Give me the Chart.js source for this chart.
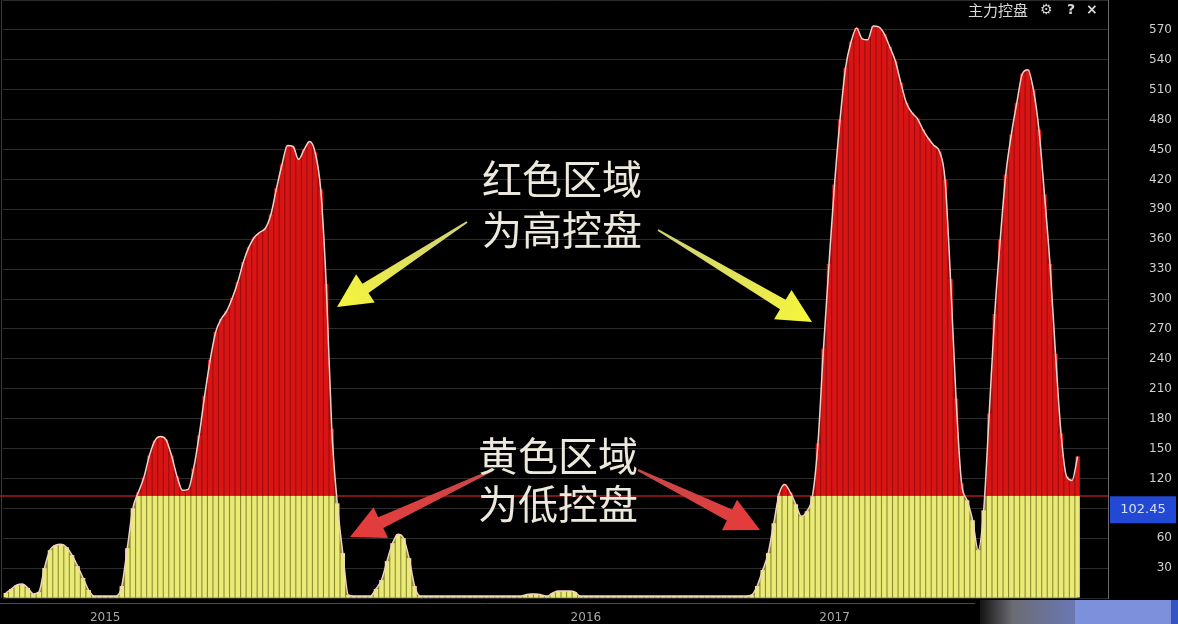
<!DOCTYPE html>
<html>
<head>
<meta charset="utf-8">
<script src="https://cdn.jsdelivr.net/npm/chart.js@4.4.1/dist/chart.umd.min.js"></script>
<style>
  html, body { margin: 0; padding: 0; background: #000; }
  canvas { display: block; }
</style>
</head>
<body>
<canvas id="control-chart" width="1178" height="624"></canvas>
<script>
// 主力控盘 values, one per trading bar (last few bars are still empty)
let controlValues = [
    5, 9, 13, 14, 10, 4, 6, 30, 48, 53,
    54, 51, 43, 32, 20, 8, 2, 2, 2, 2,
    2, 12, 50, 90, 106, 121, 143, 158, 162, 159,
    143, 122, 108, 109, 130, 163, 203, 239, 267, 280,
    288, 301, 317, 337, 352, 362, 367, 371, 385, 411,
    435, 454, 453, 440, 450, 458, 447, 410, 315, 170,
    95, 45, 3, 2, 2, 2, 2, 9, 18, 37,
    55, 64, 60, 40, 12, 2, 2, 2, 2, 2,
    2, 2, 2, 2, 2, 2, 2, 2, 2, 2,
    2, 2, 2, 2, 3, 4, 4, 3, 2, 5,
    7, 7, 7, 6, 2, 2, 2, 2, 2, 2,
    2, 2, 2, 2, 2, 2, 2, 2, 2, 2,
    2, 2, 2, 2, 2, 2, 2, 2, 2, 2,
    2, 2, 2, 2, 2, 3, 12, 28, 45, 75,
    105, 114, 106, 94, 82, 87, 102, 155, 250, 335,
    415, 480, 532, 558, 572, 561, 560, 574, 573, 566,
    553, 539, 517, 497, 487, 481, 470, 461, 454, 448,
    420, 320, 200, 115, 98, 78, 48, 88, 185, 285,
    360, 425, 465, 497, 526, 530, 510, 470, 405, 335,
    245, 165, 122, 118, 142, null, null, null, null, null
];
let threshold = 102.45;
let yearLabels = ['2015', '2016', '2017'];
let yearIndexes = [18, 105, 150];
let axisMax = 600;
let axisStep = 30;

let dayLabels = controlValues.map((v, i) => String(i));
let lowPart = controlValues.map(v => v == null ? null : Math.min(v, threshold));
let highPart = controlValues.map(v => v == null ? null : Math.max(v - threshold, 0));

// background fill behind the bars so the gaps look tinted, not black
function gapFill(context) {
    const chart = context.chart;
    const area = chart.chartArea;
    if (!area) return '#8e8e30';
    const yT = chart.scales.y.getPixelForValue(threshold);
    const f = Math.min(Math.max((yT - area.top) / (area.bottom - area.top), 0), 1);
    const g = chart.ctx.createLinearGradient(0, area.top, 0, area.bottom);
    g.addColorStop(0, '#9a0e0e');
    g.addColorStop(f, '#9a0e0e');
    g.addColorStop(f, '#8e8e30');
    g.addColorStop(1, '#8e8e30');
    return g;
}

function drawArrow(c, x1, y1, x2, y2, colA, colB, headLen, headW, neckW, tailW) {
    const ang = Math.atan2(y2 - y1, x2 - x1);
    const len = Math.hypot(x2 - x1, y2 - y1);
    c.save();
    c.translate(x1, y1);
    c.rotate(ang);
    const g = c.createLinearGradient(0, 0, len, 0);
    g.addColorStop(0, colA);
    g.addColorStop(1, colB);
    c.beginPath();
    c.moveTo(0, -tailW / 2);
    c.lineTo(len - headLen, -neckW / 2);
    c.lineTo(len - headLen, -headW / 2);
    c.lineTo(len, 0);
    c.lineTo(len - headLen, headW / 2);
    c.lineTo(len - headLen, neckW / 2);
    c.lineTo(0, tailW / 2);
    c.closePath();
    c.fillStyle = g;
    c.fill();
    c.restore();
}

const decorations = {
    id: 'decorations',
    beforeDatasetsDraw(chart) {
        const c = chart.ctx;
        const area = chart.chartArea;
        const yT = chart.scales.y.getPixelForValue(threshold);
        c.save();
        c.strokeStyle = '#a81c1c';
        c.lineWidth = 1.5;
        c.beginPath();
        c.moveTo(0, yT);
        c.lineTo(area.right, yT);
        c.stroke();
        c.restore();
    },
    afterDraw(chart) {
        const c = chart.ctx;
        const area = chart.chartArea;
        const y = chart.scales.y;
        c.save();

        // left border and the lower axis line
        c.strokeStyle = '#3c3c3c';
        c.lineWidth = 1;
        c.beginPath();
        c.moveTo(1.5, 0);
        c.lineTo(1.5, area.bottom);
        c.stroke();
        c.strokeStyle = '#4a4a4a';
        c.beginPath();
        c.moveTo(0, 603.5);
        c.lineTo(975, 603.5);
        c.stroke();

        // bottom right strip
        let g = c.createLinearGradient(980, 0, 1075, 0);
        g.addColorStop(0, '#141414');
        g.addColorStop(0.35, '#6c6c74');
        g.addColorStop(1, '#6a78b4');
        c.fillStyle = g;
        c.fillRect(980, 600, 95, 24);
        c.fillStyle = '#7c90dc';
        c.fillRect(1075, 600, 96, 24);
        c.fillStyle = '#3454c4';
        c.fillRect(1171, 600, 7, 24);

        // current value box
        const yV = y.getPixelForValue(90);
        c.fillStyle = '#2348d4';
        c.fillRect(1110, yV - 12, 66, 27);
        c.fillStyle = '#d4e0ff';
        c.font = '13px "DejaVu Sans"';
        c.textAlign = 'center';
        c.textBaseline = 'middle';
        c.fillText(threshold.toFixed(2), 1143, yV + 1);

        // title and icons
        c.fillStyle = '#d8d8d8';
        c.font = '15px "Noto Sans CJK SC"';
        c.textAlign = 'left';
        c.fillText('主力控盘', 968, 10);
        c.font = 'bold 14px "DejaVu Sans"';
        c.fillText('⚙', 1040, 10);
        c.fillText('?', 1067, 10);
        c.fillText('×', 1086, 10);

        // annotations
        drawArrow(c, 467, 222, 337, 307, '#cfcf7a', '#f6f63a', 34, 34, 11, 2);
        drawArrow(c, 658, 230, 812, 322, '#cfcf7a', '#f6f63a', 34, 34, 11, 2);
        drawArrow(c, 493, 470, 350, 537, '#c84848', '#e83a3a', 34, 34, 12, 2);
        drawArrow(c, 638, 470, 760, 530, '#c84848', '#e83a3a', 34, 34, 12, 2);

        c.fillStyle = '#ece8dc';
        c.font = '40px "Noto Sans CJK SC"';
        c.textAlign = 'center';
        c.fillText('红色区域', 562, 179);
        c.fillText('为高控盘', 562, 230);
        c.fillText('黄色区域', 558, 456);
        c.fillText('为低控盘', 558, 504);
        c.restore();
    }
};

const ctx = document.getElementById('control-chart').getContext('2d');
const controlChart = new Chart(ctx, {
    type: 'bar',
    data: {
        labels: dayLabels,
        datasets: [{
            type: 'line',
            data: controlValues,
            stack: 'outline',
            borderColor: '#f2d2c8',
            borderWidth: 1.5,
            pointRadius: 0,
            cubicInterpolationMode: 'monotone',
            fill: false,
            order: 0
        },
        {
            data: lowPart,
            stack: 'bars',
            backgroundColor: '#eaea78',
            categoryPercentage: 0.8,
            barPercentage: 1,
            order: 1
        },
        {
            data: highPart,
            stack: 'bars',
            backgroundColor: '#d81414',
            categoryPercentage: 0.8,
            barPercentage: 1,
            order: 1
        },
        {
            type: 'line',
            data: controlValues,
            stack: 'gap',
            borderWidth: 0,
            pointRadius: 0,
            cubicInterpolationMode: 'monotone',
            fill: 'origin',
            backgroundColor: gapFill,
            order: 5
        }]
    },
    options: {
        responsive: false,
        animation: false,
        devicePixelRatio: 1,
        layout: {
            padding: { top: 0, right: 6, bottom: 0, left: 3 }
        },
        scales: {
            x: {
                stacked: true,
                grid: { display: false },
                border: { display: false },
                ticks: {
                    autoSkip: false,
                    maxRotation: 0,
                    padding: 5,
                    color: '#a8a8a8',
                    font: { family: 'DejaVu Sans', size: 12 },
                    callback: function (value, index) {
                        let k = yearIndexes.indexOf(index);
                        return k >= 0 ? yearLabels[k] : '';
                    }
                },
                afterFit: function (scale) {
                    scale.height = 26;
                    scale.paddingLeft = 0;
                    scale.paddingRight = 0;
                }
            },
            y: {
                stacked: true,
                position: 'right',
                min: 0,
                max: axisMax,
                grid: { color: '#2c2c2c', drawTicks: false },
                border: { display: true, color: '#6a6a6a' },
                ticks: {
                    stepSize: axisStep,
                    crossAlign: 'far',
                    color: '#d0d0d0',
                    font: { family: 'DejaVu Sans', size: 12 },
                    callback: function (value) {
                        return (value === 0 || value === axisMax) ? '' : value;
                    }
                },
                afterFit: function (scale) {
                    scale.width = 64;
                    scale.paddingTop = 0;
                    scale.paddingBottom = 0;
                }
            }
        },
        plugins: {
            legend: { display: false },
            tooltip: { enabled: false }
        }
    },
    plugins: [decorations]
});
</script>
</body>
</html>
